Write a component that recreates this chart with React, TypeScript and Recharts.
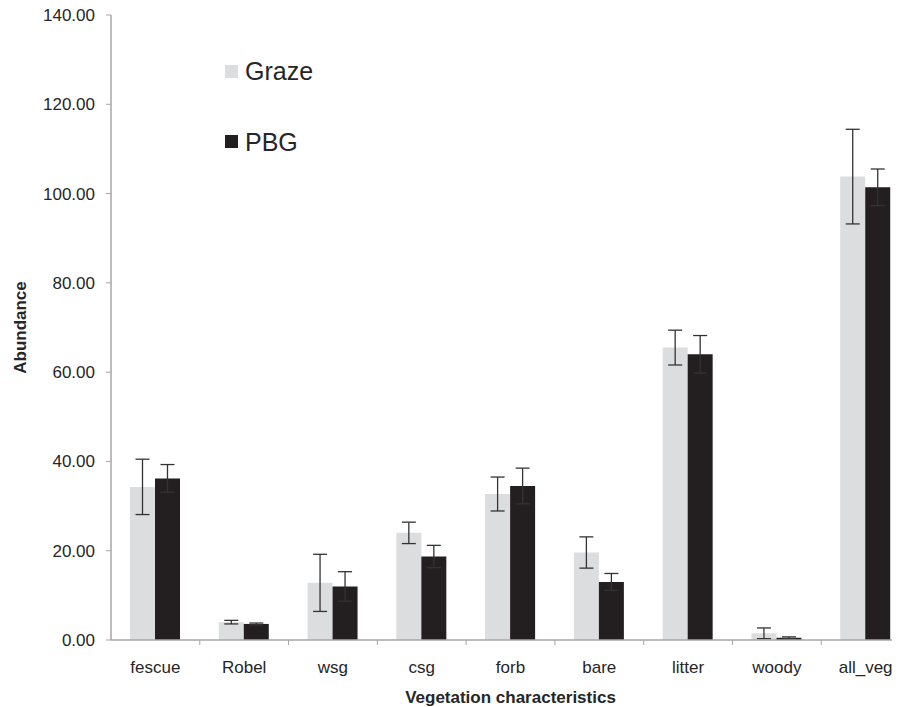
import React from 'react';
import { BarChart, Bar, XAxis, YAxis, Legend, ErrorBar } from 'recharts';

const categories = ['fescue', 'Robel', 'wsg', 'csg', 'forb', 'bare', 'litter', 'woody', 'all_veg'];
const grazeValues = [34.3, 4.0, 12.8, 24.0, 32.7, 19.6, 65.5, 1.5, 103.8];
const grazeErrors = [6.2, 0.4, 6.4, 2.4, 3.8, 3.5, 3.9, 1.2, 10.6];
const pbgValues = [36.2, 3.6, 12.0, 18.7, 34.5, 13.0, 64.0, 0.5, 101.4];
const pbgErrors = [3.1, 0.2, 3.3, 2.5, 4.0, 1.9, 4.2, 0.2, 4.1];
const yTicks = [0, 20, 40, 60, 80, 100, 120, 140];

const data = categories.map((c, i) => ({
  name: c,
  Graze: grazeValues[i],
  grazeErr: grazeErrors[i],
  PBG: pbgValues[i],
  pbgErr: pbgErrors[i],
}));

const FONT = '"Liberation Sans", Arial, Helvetica, sans-serif';
const TEXT = '#262626';
const AXIS = '#A6A6A6';
const GRAZE = '#DCDDDF';
const PBG = '#231F20';

const CHART_W = 920;
const CHART_H = 707;
const MARGIN = { top: 15, right: 18, bottom: 0, left: 0 };
const Y_W = 103;
const X_H = 67;
const PLOT_W = CHART_W - MARGIN.left - MARGIN.right - Y_W;
const BAND = PLOT_W / categories.length;

const XTick = (props: any) => {
  const { x, y, payload } = props;
  return (
    <g>
      <line x1={x + BAND / 2} x2={x + BAND / 2} y1={y} y2={y + 5} stroke={AXIS} strokeWidth={1} />
      <text x={x} y={y + 33} textAnchor="middle" fontSize={17} fontFamily={FONT} fill={TEXT}>
        {payload.value}
      </text>
    </g>
  );
};

const LegendContent = (props: any) => {
  const { payload } = props;
  return (
    <div>
      {(payload || []).map((p: any, i: number) => (
        <div
          key={i}
          style={{ display: 'flex', alignItems: 'center', height: 30, marginBottom: 40.5 }}
        >
          <span style={{ display: 'inline-block', width: 13, height: 13, background: p.color, marginRight: 7 }} />
          <span style={{ fontSize: 25, fontFamily: FONT, color: TEXT, lineHeight: '30px' }}>{p.value}</span>
        </div>
      ))}
    </div>
  );
};

export default function App() {
  return (
    <div style={{ width: 892, height: CHART_H, marginTop: -8, overflow: 'hidden', position: 'relative' }}>
      <BarChart width={CHART_W} height={CHART_H} data={data} margin={MARGIN} barGap={0} barSize={25}>
        <XAxis
          dataKey="name"
          height={X_H}
          tickLine={false}
          tickSize={0}
          tickMargin={0}
          axisLine={{ stroke: AXIS, strokeWidth: 1.5 }}
          tick={<XTick />}
          interval={0}
          label={{
            content: (p: any) => {
              const vb = p.viewBox;
              return (
                <text
                  x={vb.x + vb.width / 2}
                  y={vb.y + 63}
                  textAnchor="middle"
                  fontSize={17}
                  fontWeight="bold"
                  fontFamily={FONT}
                  fill={TEXT}
                >
                  Vegetation characteristics
                </text>
              );
            },
          }}
        />
        <YAxis
          width={Y_W}
          domain={[0, 140]}
          ticks={yTicks}
          interval={0}
          tickFormatter={(v: number) => v.toFixed(2)}
          tickSize={5}
          tickMargin={11}
          tickLine={{ stroke: AXIS }}
          axisLine={{ stroke: AXIS, strokeWidth: 1.5 }}
          tick={{ fontSize: 17, fontFamily: FONT, fill: TEXT }}
          label={{
            content: (p: any) => {
              const vb = p.viewBox;
              const cx = 12;
              const cy = vb.y + vb.height / 2;
              return (
                <text
                  x={cx}
                  y={cy}
                  transform={`rotate(-90 ${cx} ${cy})`}
                  textAnchor="middle"
                  dominantBaseline="central"
                  fontSize={17}
                  fontWeight="bold"
                  fontFamily={FONT}
                  fill={TEXT}
                >
                  Abundance
                </text>
              );
            },
          }}
        />
        <Legend
          layout="horizontal"
          verticalAlign="middle"
          align="center"
          content={<LegendContent />}
          wrapperStyle={{ top: 56, left: 217, width: 200, height: 140 }}
        />
        <Bar dataKey="Graze" name="Graze" fill={GRAZE} isAnimationActive={false}>
          <ErrorBar dataKey="grazeErr" width={7} stroke="#333333" strokeWidth={1.3} isAnimationActive={false} />
        </Bar>
        <Bar dataKey="PBG" name="PBG" fill={PBG} isAnimationActive={false}>
          <ErrorBar dataKey="pbgErr" width={7} stroke="#333333" strokeWidth={1.3} isAnimationActive={false} />
        </Bar>
      </BarChart>
    </div>
  );
}
